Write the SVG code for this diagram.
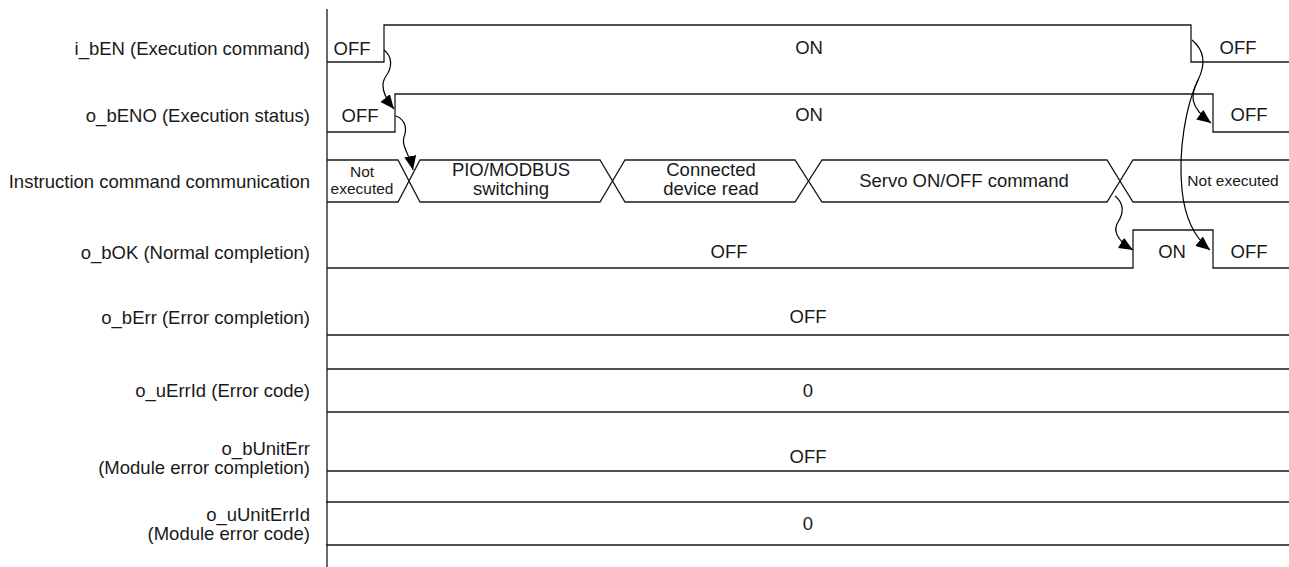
<svg xmlns="http://www.w3.org/2000/svg" width="1289" height="567" viewBox="0 0 1289 567">
<style>
text{font-family:"Liberation Sans",Arial,sans-serif;font-size:18.5px;fill:#1a1a1a}
.lbl{text-anchor:end}
.v{text-anchor:middle}
.s{font-size:15.5px}
.w{fill:none;stroke:#1a1a1a;stroke-width:1.3}
.c{fill:none;stroke:#000;stroke-width:1.2}
</style>
<defs>
<marker id="ah" markerUnits="userSpaceOnUse" markerWidth="15" markerHeight="13" refX="14" refY="6.5" orient="auto" viewBox="0 0 15 13"><path d="M0,0.5 L14,6.5 L0,12.5 z" fill="#000"/></marker>
</defs>
<rect width="1289" height="567" fill="#fff"/>
<g id="axis"><path class="w" d="M327,9 V567"/></g>
<g id="row-ibEN">
<text class="lbl" x="310" y="55">i_bEN (Execution command)</text>
<path class="w" d="M327,62 H384 V25 H1191 V62 H1289"/>
<text class="v" x="352" y="55">OFF</text>
<text class="v" x="809" y="54">ON</text>
<text class="v" x="1238" y="54">OFF</text>
</g>
<g id="row-obENO">
<text class="lbl" x="310" y="122">o_bENO (Execution status)</text>
<path class="w" d="M327,132 H395 V94 H1213 V132 H1289"/>
<text class="v" x="360" y="122">OFF</text>
<text class="v" x="809" y="121">ON</text>
<text class="v" x="1249" y="121">OFF</text>
</g>
<g id="row-comm">
<text class="lbl" x="310" y="188">Instruction command communication</text>
<path class="w" d="M327,160 H398 L420,202 H600 L625,160 H795 L822,202 H1107 L1133,160 H1289"/>
<path class="w" d="M327,202 H398 L420,160 H600 L625,202 H795 L822,160 H1107 L1133,202 H1289"/>
<text class="v s" x="362" y="177">Not</text>
<text class="v s" x="362" y="194">executed</text>
<text class="v" x="511" y="176">PIO/MODBUS</text>
<text class="v" x="511" y="195">switching</text>
<text class="v" x="711" y="176">Connected</text>
<text class="v" x="711" y="195">device read</text>
<text class="v" x="964" y="187">Servo ON/OFF command</text>
<text class="v s" x="1233" y="186">Not executed</text>
</g>
<g id="row-obOK">
<text class="lbl" x="310" y="259">o_bOK (Normal completion)</text>
<path class="w" d="M327,268 H1133 V230 H1213 V268 H1289"/>
<text class="v" x="729" y="258">OFF</text>
<text class="v" x="1172" y="258">ON</text>
<text class="v" x="1249" y="258">OFF</text>
</g>
<g id="row-obErr">
<text class="lbl" x="310" y="324">o_bErr (Error completion)</text>
<path class="w" d="M327,335 H1289"/>
<text class="v" x="808" y="323">OFF</text>
</g>
<g id="row-ouErrId">
<text class="lbl" x="310" y="397">o_uErrId (Error code)</text>
<path class="w" d="M327,369 H1289 M327,412 H1289"/>
<text class="v" x="808" y="397">0</text>
</g>
<g id="row-obUnitErr">
<text class="lbl" x="310" y="455">o_bUnitErr</text>
<text class="lbl" x="310" y="474">(Module error completion)</text>
<path class="w" d="M327,471 H1289"/>
<text class="v" x="808" y="463">OFF</text>
</g>
<g id="row-ouUnitErrId">
<text class="lbl" x="310" y="521">o_uUnitErrId</text>
<text class="lbl" x="310" y="540">(Module error code)</text>
<path class="w" d="M326,502 H1289 M326,545 H1289"/>
<text class="v" x="808" y="530">0</text>
</g>
<g id="connectors">
<path class="c" marker-end="url(#ah)" d="M384,50 C393,57 392,68 386,76 C381,83 381,93 394,109"/>
<path class="c" marker-end="url(#ah)" d="M396,116 C406,120 407,129 404,137 C401,146 410,155 413,170"/>
<path class="c" marker-end="url(#ah)" d="M1192,40 C1204,50 1206,64 1198,80 C1191,94 1188,106 1211,123"/>
<path class="c" marker-end="url(#ah)" d="M1198,80 C1186,105 1178,150 1182,190 C1185,220 1195,238 1210,250"/>
<path class="c" marker-end="url(#ah)" d="M1115,196 C1124,203 1124,213 1118,222 C1113,230 1116,240 1133,250"/>
</g>
</svg>
